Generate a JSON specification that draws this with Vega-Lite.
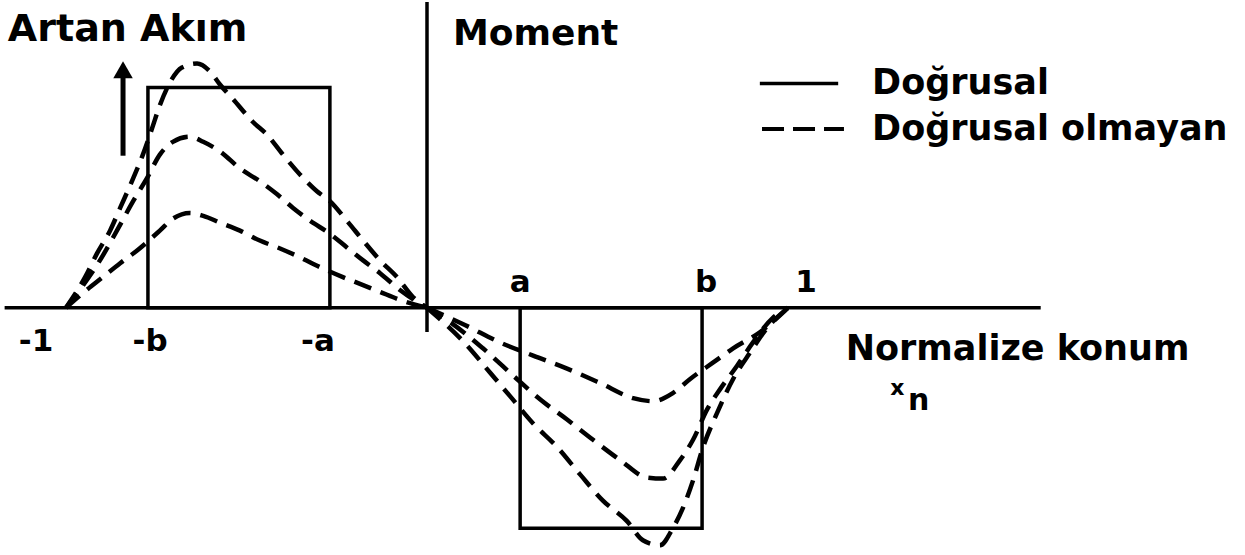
{
  "$schema": "https://vega.github.io/schema/vega-lite/v6.json",
  "width": 1245,
  "height": 555,
  "padding": 0,
  "autosize": {"type": "fit", "contains": "padding"},
  "background": "white",
  "config": {
    "view": {"stroke": null},
    "text": {"font": "DejaVu Sans", "fontWeight": "bold", "color": "black", "baseline": "middle"}
  },
  "datasets": {
    "curves": [
      {"curve": "sol_yuksek", "x": -1.0, "y": 0.0},
      {"curve": "sol_yuksek", "x": -0.947, "y": 0.139},
      {"curve": "sol_yuksek", "x": -0.914, "y": 0.247},
      {"curve": "sol_yuksek", "x": -0.878, "y": 0.35},
      {"curve": "sol_yuksek", "x": -0.85, "y": 0.453},
      {"curve": "sol_yuksek", "x": -0.814, "y": 0.587},
      {"curve": "sol_yuksek", "x": -0.787, "y": 0.695},
      {"curve": "sol_yuksek", "x": -0.762, "y": 0.812},
      {"curve": "sol_yuksek", "x": -0.74, "y": 0.919},
      {"curve": "sol_yuksek", "x": -0.712, "y": 1.022},
      {"curve": "sol_yuksek", "x": -0.679, "y": 1.09},
      {"curve": "sol_yuksek", "x": -0.637, "y": 1.108},
      {"curve": "sol_yuksek", "x": -0.601, "y": 1.072},
      {"curve": "sol_yuksek", "x": -0.573, "y": 1.012},
      {"curve": "sol_yuksek", "x": -0.537, "y": 0.946},
      {"curve": "sol_yuksek", "x": -0.482, "y": 0.843},
      {"curve": "sol_yuksek", "x": -0.443, "y": 0.785},
      {"curve": "sol_yuksek", "x": -0.399, "y": 0.695},
      {"curve": "sol_yuksek", "x": -0.352, "y": 0.605},
      {"curve": "sol_yuksek", "x": -0.305, "y": 0.529},
      {"curve": "sol_yuksek", "x": -0.269, "y": 0.484},
      {"curve": "sol_yuksek", "x": -0.222, "y": 0.395},
      {"curve": "sol_yuksek", "x": -0.177, "y": 0.305},
      {"curve": "sol_yuksek", "x": -0.13, "y": 0.215},
      {"curve": "sol_yuksek", "x": -0.083, "y": 0.139},
      {"curve": "sol_yuksek", "x": -0.039, "y": 0.049},
      {"curve": "sol_yuksek", "x": 0.0, "y": 0.0},

      {"curve": "sol_orta", "x": -1.0, "y": 0.0},
      {"curve": "sol_orta", "x": -0.956, "y": 0.094},
      {"curve": "sol_orta", "x": -0.906, "y": 0.215},
      {"curve": "sol_orta", "x": -0.859, "y": 0.35},
      {"curve": "sol_orta", "x": -0.814, "y": 0.484},
      {"curve": "sol_orta", "x": -0.776, "y": 0.587},
      {"curve": "sol_orta", "x": -0.74, "y": 0.695},
      {"curve": "sol_orta", "x": -0.704, "y": 0.753},
      {"curve": "sol_orta", "x": -0.657, "y": 0.776},
      {"curve": "sol_orta", "x": -0.62, "y": 0.753},
      {"curve": "sol_orta", "x": -0.573, "y": 0.709},
      {"curve": "sol_orta", "x": -0.518, "y": 0.632},
      {"curve": "sol_orta", "x": -0.463, "y": 0.574},
      {"curve": "sol_orta", "x": -0.416, "y": 0.516},
      {"curve": "sol_orta", "x": -0.371, "y": 0.453},
      {"curve": "sol_orta", "x": -0.324, "y": 0.395},
      {"curve": "sol_orta", "x": -0.269, "y": 0.336},
      {"curve": "sol_orta", "x": -0.222, "y": 0.274},
      {"curve": "sol_orta", "x": -0.177, "y": 0.215},
      {"curve": "sol_orta", "x": -0.13, "y": 0.157},
      {"curve": "sol_orta", "x": -0.075, "y": 0.081},
      {"curve": "sol_orta", "x": 0.0, "y": 0.0},

      {"curve": "sol_alcak", "x": -1.0, "y": 0.0},
      {"curve": "sol_alcak", "x": -0.953, "y": 0.067},
      {"curve": "sol_alcak", "x": -0.898, "y": 0.139},
      {"curve": "sol_alcak", "x": -0.85, "y": 0.202},
      {"curve": "sol_alcak", "x": -0.803, "y": 0.26},
      {"curve": "sol_alcak", "x": -0.74, "y": 0.35},
      {"curve": "sol_alcak", "x": -0.704, "y": 0.404},
      {"curve": "sol_alcak", "x": -0.657, "y": 0.43},
      {"curve": "sol_alcak", "x": -0.62, "y": 0.417},
      {"curve": "sol_alcak", "x": -0.573, "y": 0.386},
      {"curve": "sol_alcak", "x": -0.518, "y": 0.35},
      {"curve": "sol_alcak", "x": -0.463, "y": 0.305},
      {"curve": "sol_alcak", "x": -0.407, "y": 0.269},
      {"curve": "sol_alcak", "x": -0.352, "y": 0.229},
      {"curve": "sol_alcak", "x": -0.296, "y": 0.184},
      {"curve": "sol_alcak", "x": -0.233, "y": 0.139},
      {"curve": "sol_alcak", "x": -0.177, "y": 0.103},
      {"curve": "sol_alcak", "x": -0.13, "y": 0.072},
      {"curve": "sol_alcak", "x": -0.075, "y": 0.036},
      {"curve": "sol_alcak", "x": 0.0, "y": 0.0},

      {"curve": "sag_sig", "x": 0.0, "y": 0.0},
      {"curve": "sag_sig", "x": 0.105, "y": -0.078},
      {"curve": "sag_sig", "x": 0.202, "y": -0.157},
      {"curve": "sag_sig", "x": 0.294, "y": -0.217},
      {"curve": "sag_sig", "x": 0.388, "y": -0.276},
      {"curve": "sag_sig", "x": 0.479, "y": -0.341},
      {"curve": "sag_sig", "x": 0.571, "y": -0.41},
      {"curve": "sag_sig", "x": 0.626, "y": -0.424},
      {"curve": "sag_sig", "x": 0.681, "y": -0.387},
      {"curve": "sag_sig", "x": 0.729, "y": -0.323},
      {"curve": "sag_sig", "x": 0.792, "y": -0.249},
      {"curve": "sag_sig", "x": 0.848, "y": -0.184},
      {"curve": "sag_sig", "x": 0.922, "y": -0.111},
      {"curve": "sag_sig", "x": 1.0, "y": 0.0},

      {"curve": "sag_orta", "x": 0.0, "y": 0.0},
      {"curve": "sag_orta", "x": 0.064, "y": -0.065},
      {"curve": "sag_orta", "x": 0.155, "y": -0.184},
      {"curve": "sag_orta", "x": 0.249, "y": -0.323},
      {"curve": "sag_orta", "x": 0.313, "y": -0.415},
      {"curve": "sag_orta", "x": 0.388, "y": -0.507},
      {"curve": "sag_orta", "x": 0.46, "y": -0.599},
      {"curve": "sag_orta", "x": 0.535, "y": -0.691},
      {"curve": "sag_orta", "x": 0.609, "y": -0.77},
      {"curve": "sag_orta", "x": 0.654, "y": -0.775},
      {"curve": "sag_orta", "x": 0.701, "y": -0.691},
      {"curve": "sag_orta", "x": 0.737, "y": -0.599},
      {"curve": "sag_orta", "x": 0.776, "y": -0.461},
      {"curve": "sag_orta", "x": 0.812, "y": -0.369},
      {"curve": "sag_orta", "x": 0.859, "y": -0.263},
      {"curve": "sag_orta", "x": 0.903, "y": -0.157},
      {"curve": "sag_orta", "x": 0.958, "y": -0.046},
      {"curve": "sag_orta", "x": 1.0, "y": 0.0},

      {"curve": "sag_derin", "x": 0.0, "y": 0.0},
      {"curve": "sag_derin", "x": 0.111, "y": -0.171},
      {"curve": "sag_derin", "x": 0.175, "y": -0.295},
      {"curve": "sag_derin", "x": 0.23, "y": -0.401},
      {"curve": "sag_derin", "x": 0.294, "y": -0.525},
      {"curve": "sag_derin", "x": 0.36, "y": -0.631},
      {"curve": "sag_derin", "x": 0.424, "y": -0.756},
      {"curve": "sag_derin", "x": 0.488, "y": -0.876},
      {"curve": "sag_derin", "x": 0.554, "y": -0.968},
      {"curve": "sag_derin", "x": 0.598, "y": -1.055},
      {"curve": "sag_derin", "x": 0.645, "y": -1.078},
      {"curve": "sag_derin", "x": 0.681, "y": -1.0},
      {"curve": "sag_derin", "x": 0.709, "y": -0.908},
      {"curve": "sag_derin", "x": 0.737, "y": -0.783},
      {"curve": "sag_derin", "x": 0.765, "y": -0.631},
      {"curve": "sag_derin", "x": 0.803, "y": -0.479},
      {"curve": "sag_derin", "x": 0.848, "y": -0.323},
      {"curve": "sag_derin", "x": 0.895, "y": -0.203},
      {"curve": "sag_derin", "x": 0.942, "y": -0.092},
      {"curve": "sag_derin", "x": 1.0, "y": 0.0}
    ]
  },
  "encoding": {
    "x": {"field": "x", "type": "quantitative", "scale": {"domain": [-1.1828, 2.2659], "nice": false, "zero": false}, "axis": null},
    "y": {"field": "y", "type": "quantitative", "scale": {"domain": [-1.1126, 1.3874], "nice": false, "zero": false}, "axis": null}
  },
  "layer": [
    {
      "description": "Eksen çizgileri: yatay konum ekseni ve dikey moment ekseni",
      "data": {"values": [
        {"x": -1.17, "x2": 1.7, "y": 0, "y2": 0},
        {"x": 0, "x2": 0, "y": 1.3874, "y2": -0.11}
      ]},
      "mark": {"type": "rule", "color": "black", "strokeWidth": 3.5},
      "encoding": {"x2": {"field": "x2"}, "y2": {"field": "y2"}}
    },
    {
      "description": "Doğrusal durum: dikdörtgen akım dağılımı",
      "data": {"values": [
        {"x": -0.773, "x2": -0.269, "y": 0, "y2": 1},
        {"x": 0.258, "x2": 0.762, "y": -1, "y2": 0}
      ]},
      "mark": {"type": "rect", "fillOpacity": 0, "stroke": "black", "strokeWidth": 3.5},
      "encoding": {"x2": {"field": "x2"}, "y2": {"field": "y2"}}
    },
    {
      "description": "Doğrusal olmayan durum: kesikli eğriler",
      "data": {"name": "curves"},
      "mark": {"type": "line", "color": "black", "strokeWidth": 4.5, "strokeDash": [18, 10], "interpolate": "monotone"},
      "encoding": {"detail": {"field": "curve"}}
    },
    {
      "description": "Artan akım oku",
      "data": {"values": [{"x": -0.842, "y": 0.69, "y2": 1.05}]},
      "mark": {"type": "rule", "color": "black", "strokeWidth": 5},
      "encoding": {"y2": {"field": "y2"}}
    },
    {
      "data": {"values": [{"x": -0.842, "y": 1.08}]},
      "mark": {"type": "point", "shape": "triangle-up", "filled": true, "color": "black", "size": 380, "opacity": 1}
    },
    {
      "description": "Gösterge çizgileri",
      "data": {"values": [{"x": 0.922, "x2": 1.139, "y": 1.018, "y2": 1.018}]},
      "mark": {"type": "rule", "color": "black", "strokeWidth": 3.5},
      "encoding": {"x2": {"field": "x2"}, "y2": {"field": "y2"}}
    },
    {
      "data": {"values": [{"x": 0.928, "x2": 1.155, "y": 0.811, "y2": 0.811}]},
      "mark": {"type": "rule", "color": "black", "strokeWidth": 4, "strokeDash": [22, 9]},
      "encoding": {"x2": {"field": "x2"}, "y2": {"field": "y2"}}
    },
    {
      "description": "Başlıklar",
      "data": {"values": [{"x": -1.161, "y": 1.261, "t": "Artan Akım"}]},
      "mark": {"type": "text", "align": "left", "fontSize": 38},
      "encoding": {"text": {"field": "t"}}
    },
    {
      "data": {"values": [{"x": 0.072, "y": 1.243, "t": "Moment"}]},
      "mark": {"type": "text", "align": "left", "fontSize": 36},
      "encoding": {"text": {"field": "t"}}
    },
    {
      "description": "Gösterge ve konum ekseni metinleri",
      "data": {"values": [
        {"x": 1.233, "y": 1.018, "t": "Doğrusal"},
        {"x": 1.233, "y": 0.811, "t": "Doğrusal olmayan"},
        {"x": 1.16, "y": -0.185, "t": "Normalize konum"}
      ]},
      "mark": {"type": "text", "align": "left", "fontSize": 35},
      "encoding": {"text": {"field": "t"}}
    },
    {
      "description": "Konum ekseni etiketleri",
      "data": {"values": [
        {"x": -1.083, "y": -0.153, "t": "-1"},
        {"x": -0.767, "y": -0.153, "t": "-b"},
        {"x": -0.302, "y": -0.153, "t": "-a"},
        {"x": 0.258, "y": 0.113, "t": "a"},
        {"x": 0.773, "y": 0.113, "t": "b"},
        {"x": 1.05, "y": 0.113, "t": "1"}
      ]},
      "mark": {"type": "text", "align": "center", "fontSize": 31},
      "encoding": {"text": {"field": "t"}}
    },
    {
      "data": {"values": [{"x": 1.303, "y": -0.365, "t": "x"}]},
      "mark": {"type": "text", "align": "center", "fontSize": 22},
      "encoding": {"text": {"field": "t"}}
    },
    {
      "data": {"values": [{"x": 1.362, "y": -0.425, "t": "n"}]},
      "mark": {"type": "text", "align": "center", "fontSize": 30},
      "encoding": {"text": {"field": "t"}}
    }
  ]
}
